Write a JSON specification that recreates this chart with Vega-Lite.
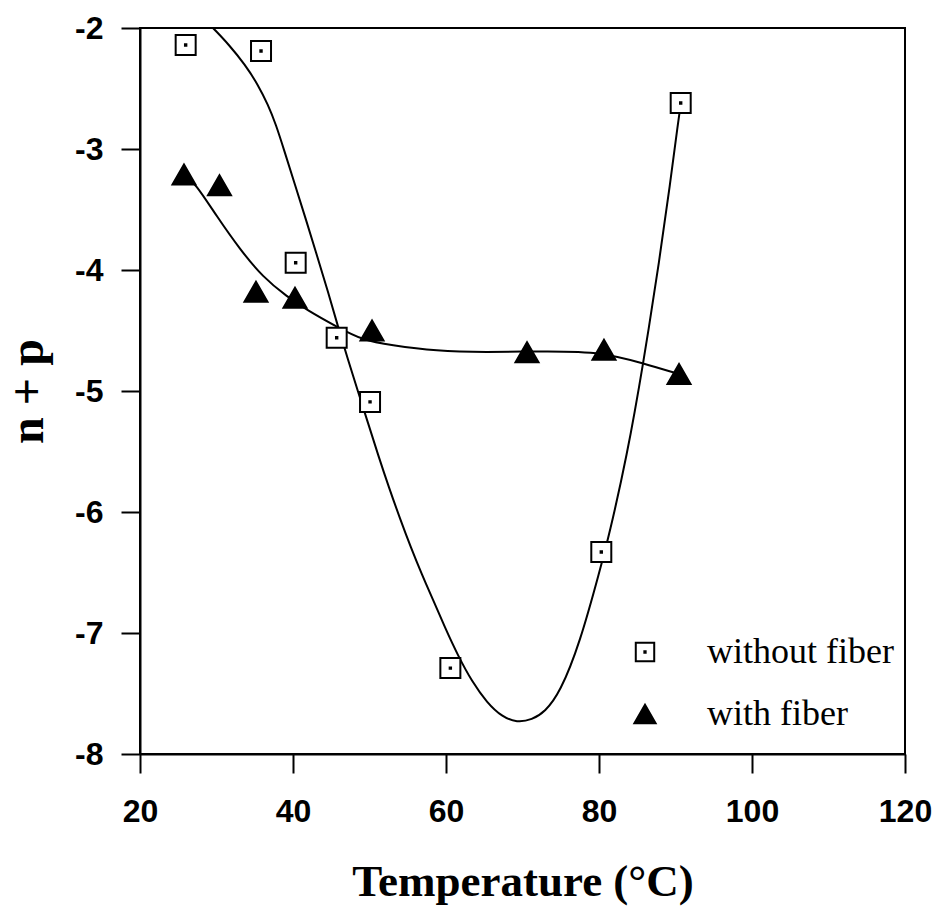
{
  "$schema": "https://vega.github.io/schema/vega-lite/v6.json",
  "width": 765,
  "height": 726,
  "autosize": {"type": "none"},
  "padding": {"left": 140, "top": 28, "right": 34, "bottom": 164},
  "background": "white",
  "config": {
    "view": {"stroke": "black", "strokeWidth": 2},
    "axis": {
      "grid": false,
      "labelFlush": false,
      "labelOverlap": false,
      "labelFont": "Liberation Sans",
      "labelFontSize": 32,
      "labelFontWeight": "bold",
      "labelColor": "black",
      "titleFont": "Liberation Serif",
      "titleFontWeight": "bold",
      "titleColor": "black",
      "domainColor": "black",
      "domainWidth": 2,
      "tickColor": "black",
      "tickWidth": 2,
      "tickSize": 19
    },
    "legend": {
      "labelFont": "Liberation Serif",
      "labelFontSize": 36,
      "labelColor": "black",
      "labelLimit": 0,
      "symbolStrokeWidth": 2
    }
  },
  "datasets": {
    "measured": [
      {"series": "without fiber", "temp": 25.97, "np": -2.14},
      {"series": "without fiber", "temp": 35.82, "np": -2.19},
      {"series": "without fiber", "temp": 40.35, "np": -3.94},
      {"series": "without fiber", "temp": 45.71, "np": -4.56},
      {"series": "without fiber", "temp": 50.07, "np": -5.09},
      {"series": "without fiber", "temp": 60.57, "np": -7.29},
      {"series": "without fiber", "temp": 80.3, "np": -6.33},
      {"series": "without fiber", "temp": 90.68, "np": -2.62},
      {"series": "with fiber", "temp": 25.75, "np": -3.21},
      {"series": "with fiber", "temp": 30.39, "np": -3.3},
      {"series": "with fiber", "temp": 35.16, "np": -4.18},
      {"series": "with fiber", "temp": 40.26, "np": -4.23},
      {"series": "with fiber", "temp": 50.33, "np": -4.5},
      {"series": "with fiber", "temp": 70.59, "np": -4.68},
      {"series": "with fiber", "temp": 80.65, "np": -4.66},
      {"series": "with fiber", "temp": 90.46, "np": -4.86}
    ],
    "fitted": [
      {"series": "without fiber", "temp": 29.54, "np": -2.0},
      {"series": "without fiber", "temp": 31.63, "np": -2.138},
      {"series": "without fiber", "temp": 33.73, "np": -2.303},
      {"series": "without fiber", "temp": 35.42, "np": -2.468},
      {"series": "without fiber", "temp": 36.73, "np": -2.634},
      {"series": "without fiber", "temp": 37.78, "np": -2.799},
      {"series": "without fiber", "temp": 38.82, "np": -3.006},
      {"series": "without fiber", "temp": 40.26, "np": -3.295},
      {"series": "without fiber", "temp": 41.7, "np": -3.584},
      {"series": "without fiber", "temp": 43.14, "np": -3.882},
      {"series": "without fiber", "temp": 44.58, "np": -4.179},
      {"series": "without fiber", "temp": 45.88, "np": -4.469},
      {"series": "without fiber", "temp": 47.19, "np": -4.741},
      {"series": "without fiber", "temp": 48.5, "np": -5.006},
      {"series": "without fiber", "temp": 49.8, "np": -5.262},
      {"series": "without fiber", "temp": 51.11, "np": -5.526},
      {"series": "without fiber", "temp": 52.55, "np": -5.799},
      {"series": "without fiber", "temp": 53.99, "np": -6.055},
      {"series": "without fiber", "temp": 55.42, "np": -6.295},
      {"series": "without fiber", "temp": 56.86, "np": -6.518},
      {"series": "without fiber", "temp": 58.3, "np": -6.725},
      {"series": "without fiber", "temp": 59.87, "np": -6.956},
      {"series": "without fiber", "temp": 61.57, "np": -7.188},
      {"series": "without fiber", "temp": 63.4, "np": -7.402},
      {"series": "without fiber", "temp": 65.36, "np": -7.576},
      {"series": "without fiber", "temp": 67.32, "np": -7.692},
      {"series": "without fiber", "temp": 69.28, "np": -7.741},
      {"series": "without fiber", "temp": 71.24, "np": -7.717},
      {"series": "without fiber", "temp": 72.94, "np": -7.651},
      {"series": "without fiber", "temp": 74.9, "np": -7.493},
      {"series": "without fiber", "temp": 77.52, "np": -7.08},
      {"series": "without fiber", "temp": 80.13, "np": -6.477},
      {"series": "without fiber", "temp": 81.31, "np": -6.196},
      {"series": "without fiber", "temp": 83.66, "np": -5.535},
      {"series": "without fiber", "temp": 85.75, "np": -4.791},
      {"series": "without fiber", "temp": 87.97, "np": -3.89},
      {"series": "without fiber", "temp": 89.28, "np": -3.295},
      {"series": "without fiber", "temp": 90.33, "np": -2.783},
      {"series": "without fiber", "temp": 90.72, "np": -2.618},
      {"series": "with fiber", "temp": 25.75, "np": -3.21},
      {"series": "with fiber", "temp": 27.19, "np": -3.28},
      {"series": "with fiber", "temp": 30.07, "np": -3.56},
      {"series": "with fiber", "temp": 33.07, "np": -3.83},
      {"series": "with fiber", "temp": 36.08, "np": -4.06},
      {"series": "with fiber", "temp": 39.22, "np": -4.22},
      {"series": "with fiber", "temp": 41.83, "np": -4.33},
      {"series": "with fiber", "temp": 45.75, "np": -4.47},
      {"series": "with fiber", "temp": 49.15, "np": -4.58},
      {"series": "with fiber", "temp": 52.68, "np": -4.62},
      {"series": "with fiber", "temp": 58.82, "np": -4.67},
      {"series": "with fiber", "temp": 64.84, "np": -4.68},
      {"series": "with fiber", "temp": 73.59, "np": -4.67},
      {"series": "with fiber", "temp": 80.52, "np": -4.68},
      {"series": "with fiber", "temp": 85.75, "np": -4.77},
      {"series": "with fiber", "temp": 90.46, "np": -4.86}
    ]
  },
  "layer": [
    {
      "data": {"name": "fitted"},
      "mark": {"type": "line", "color": "black", "strokeWidth": 2, "interpolate": "basis", "clip": true},
      "encoding": {
        "x": {
          "field": "temp",
          "type": "quantitative",
          "scale": {"domain": [20, 120], "nice": false, "zero": false},
          "axis": {
            "title": "Temperature (°C)",
            "values": [20, 40, 60, 80, 100, 120],
            "labelPadding": 23,
            "titleFontSize": 45,
            "titlePadding": 32
          }
        },
        "y": {
          "field": "np",
          "type": "quantitative",
          "scale": {"domain": [-8, -2], "nice": false, "zero": false},
          "axis": {
            "title": "n + p",
            "values": [-8, -7, -6, -5, -4, -3, -2],
            "labelExpr": "'' + datum.value",
            "labelPadding": 18,
            "titleFontSize": 48,
            "titlePadding": 22
          }
        },
        "detail": {"field": "series", "type": "nominal"}
      }
    },
    {
      "data": {"name": "measured"},
      "mark": {"type": "point", "strokeWidth": 2, "opacity": 1, "size": 400},
      "encoding": {
        "x": {"field": "temp", "type": "quantitative"},
        "y": {"field": "np", "type": "quantitative"},
        "shape": {
          "field": "series",
          "type": "nominal",
          "scale": {
            "domain": ["without fiber", "with fiber"],
            "range": [
              "M-1,-1H1V1H-1Z M-0.07,-0.07H0.07V0.07H-0.07Z",
              "M0,-1L1.15,1L-1.15,1Z"
            ]
          },
          "legend": {
            "title": null,
            "orient": "none",
            "legendX": 487,
            "legendY": 606,
            "padding": 0,
            "symbolSize": 340,
            "rowPadding": 26,
            "labelOffset": 44
          }
        },
        "fill": {
          "field": "series",
          "type": "nominal",
          "scale": {"domain": ["without fiber", "with fiber"], "range": ["white", "black"]}
        },
        "stroke": {
          "field": "series",
          "type": "nominal",
          "scale": {"domain": ["without fiber", "with fiber"], "range": ["black", "black"]}
        }
      }
    }
  ]
}
